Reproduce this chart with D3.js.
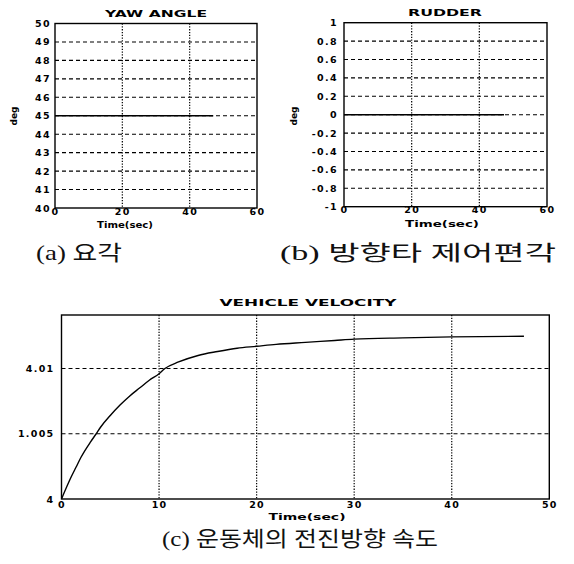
<!DOCTYPE html>
<html><head><meta charset="utf-8">
<script src="https://cdn.jsdelivr.net/npm/d3@7"></script>
<style>body{margin:0;background:#fff} svg{display:block}</style>
</head><body><svg id="c" width="574" height="564"></svg>
<script>
// ---- data ----
const yawTime = [0, 47];
const yawDeg = [45, 45];
const rudderTime = [0, 47.3];
const rudderDeg = [0, 0];
const velTime  = [0, 1, 1.5, 2, 3, 3.56, 4, 5, 6, 7, 8, 9, 10, 10.6, 12, 14, 16, 18, 20, 22, 25, 28, 30, 35, 40, 47.4];
const velValue = [4, 4.0017, 4.00245, 4.0032, 4.0044, 4.005, 4.0055, 4.0064, 4.0072, 4.0079, 4.0085, 4.0091, 4.0096, 4.01, 4.0105, 4.011, 4.0113, 4.01155, 4.0117, 4.01185, 4.012, 4.01215, 4.01225, 4.01235, 4.01242, 4.01247];
const yawTicks = [40, 41, 42, 43, 44, 45, 46, 47, 48, 49, 50];
const yawTickLabels = ["40", "41", "42", "43", "44", "45", "46", "47", "48", "49", "50"];
const rudderTicks = [-1, -0.8, -0.6, -0.4, -0.2, 0, 0.2, 0.4, 0.6, 0.8, 1];
const rudderTickLabels = ["-1", "-0.8", "-0.6", "-0.4", "-0.2", "0", "0.2", "0.4", "0.6", "0.8", "1"];
const topTimeTicks = [0, 20, 40, 60];
const velTimeTicks = [0, 10, 20, 30, 40, 50];
const velTicks = [4, 4.005, 4.01];
const velTickLabels = ["4", "1.005", "4.01"];
const titles = ["YAW ANGLE", "RUDDER", "VEHICLE VELOCITY"];
const captions = ["(a) 요각", "(b) 방향타 제어편각", "(c) 운동체의 전진방향 속도"];

const svg = d3.select("#c");
const FONT = "'DejaVu Sans', sans-serif";

function panel(o) {
  const g = svg.append("g");
  const x = d3.scaleLinear().domain(o.xDomain).range([o.left, o.right]);
  const y = d3.scaleLinear().domain(o.yDomain).range([o.bottom, o.top]);

  g.selectAll("line.hg").data(o.yTicks.filter(v => v > o.yDomain[0] && v < o.yDomain[1]))
    .join("line").attr("class", "hg")
    .attr("x1", o.left).attr("x2", o.right)
    .attr("y1", d => y(d)).attr("y2", d => y(d))
    .attr("stroke", "#000").attr("stroke-width", 1.1).attr("stroke-dasharray", "4,3");
  g.selectAll("line.vg").data(o.xTicks.filter(v => v > o.xDomain[0] && v < o.xDomain[1]))
    .join("line").attr("class", "vg")
    .attr("y1", o.top).attr("y2", o.bottom)
    .attr("x1", d => x(d)).attr("x2", d => x(d))
    .attr("stroke", "#000").attr("stroke-width", 1.2).attr("stroke-dasharray", "1.3,1.5");
  g.append("rect").attr("x", o.left).attr("y", o.top)
    .attr("width", o.right - o.left).attr("height", o.bottom - o.top)
    .attr("fill", "none").attr("stroke", "#000").attr("stroke-width", 1.4);

  const ya = d3.axisLeft(y).tickValues(o.yTicks).tickFormat((d, i) => o.yLabels[i]).tickSize(0).tickPadding(o.yPad);
  g.append("g").attr("transform", `translate(${o.left},0)`).call(ya)
    .call(s => s.select(".domain").remove())
    .selectAll("text").attr("font-family", FONT).attr("font-weight", "bold")
    .attr("font-size", o.tickSize).attr("letter-spacing", o.tickSpacing).attr("fill", "#000");
  const xa = d3.axisBottom(x).tickValues(o.xTicks).tickFormat(d3.format("d")).tickSize(0).tickPadding(o.xPad);
  g.append("g").attr("transform", `translate(0,${o.bottom})`).call(xa)
    .call(s => s.select(".domain").remove())
    .selectAll("text").attr("font-family", FONT).attr("font-weight", "bold")
    .attr("font-size", o.tickSize).attr("letter-spacing", o.tickSpacing).attr("fill", "#000");

  const pts = o.xs.map((t, i) => [t, o.ys[i]]);
  g.append("path").datum(pts)
    .attr("d", d3.line().x(d => x(d[0])).y(d => y(d[1])).curve(d3.curveMonotoneX))
    .attr("fill", "none").attr("stroke", "#000").attr("stroke-width", 1.4);

  g.append("text").attr("x", o.titleX).attr("y", o.titleY).attr("text-anchor", "middle")
    .attr("font-family", FONT).attr("font-weight", "bold").attr("font-size", 8.5)
    .attr("textLength", o.titleW).attr("lengthAdjust", "spacingAndGlyphs").text(o.title);
  g.append("text").attr("x", o.xlabX).attr("y", o.xlabY).attr("text-anchor", "middle")
    .attr("font-family", FONT).attr("font-weight", "bold").attr("font-size", o.xlabSize)
    .attr("textLength", o.xlabW).attr("lengthAdjust", "spacingAndGlyphs").text("Time(sec)");
  if (o.ylab) {
    g.append("text").attr("transform", `translate(${o.ylabX},${o.ylabY}) rotate(-90)`)
      .attr("text-anchor", "middle").attr("font-family", FONT).attr("font-weight", "bold")
      .attr("font-size", 9).text(o.ylab);
  }
}

panel({left: 55, right: 257, top: 23.5, bottom: 208,
  xDomain: [0, 60], yDomain: [40, 50], xTicks: topTimeTicks, yTicks: yawTicks, yLabels: yawTickLabels,
  xs: yawTime, ys: yawDeg, yPad: 4, xPad: 0, tickSize: 9.5, tickSpacing: 1.4,
  title: titles[0], titleX: 156, titleY: 17, titleW: 102,
  xlabX: 125, xlabY: 228, xlabW: 56, xlabSize: 9, ylab: "deg", ylabX: 17, ylabY: 116});

panel({left: 344, right: 547, top: 22.7, bottom: 206.7,
  xDomain: [0, 60], yDomain: [-1, 1], xTicks: topTimeTicks, yTicks: rudderTicks, yLabels: rudderTickLabels,
  xs: rudderTime, ys: rudderDeg, yPad: 6, xPad: 0, tickSize: 9.5, tickSpacing: 1.4,
  title: titles[1], titleX: 445, titleY: 16, titleW: 74,
  xlabX: 442, xlabY: 227, xlabW: 74, xlabSize: 9, ylab: "deg", ylabX: 297, ylabY: 116});

panel({left: 61.5, right: 549.3, top: 315, bottom: 499,
  xDomain: [0, 50], yDomain: [4, 4.0141], xTicks: velTimeTicks, yTicks: velTicks, yLabels: velTickLabels,
  xs: velTime, ys: velValue, yPad: 7, xPad: 2, tickSize: 9.5, tickSpacing: 1.3,
  title: titles[2], titleX: 308, titleY: 306, titleW: 177,
  xlabX: 307, xlabY: 520, xlabW: 77, xlabSize: 8, ylab: null});

const capFont = "'Liberation Serif', 'Noto Sans CJK KR', serif";
[[captions[0], 36, 260, 86], [captions[1], 280, 260, 276], [captions[2], 162, 546, 276]].forEach(c => {
  svg.append("text").attr("x", c[1]).attr("y", c[2]).attr("font-family", capFont)
    .attr("font-size", 21).attr("textLength", c[3]).attr("lengthAdjust", "spacingAndGlyphs")
    .attr("fill", "#111").text(c[0]);
});
</script></body></html>
